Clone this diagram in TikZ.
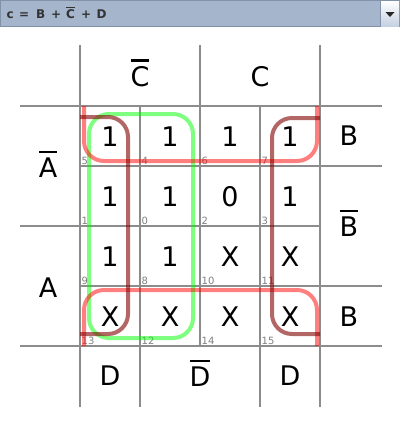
\documentclass[tikz,border=0pt]{standalone}
\usepackage{fontspec}
\setmainfont{DejaVu Sans}
\newcommand{\olbar}[1]{\vbox{\hrule height 2.4pt\kern 4.2pt\hbox{#1}}}
\newcommand{\olsmall}[1]{\vbox{\hrule height 1.2pt\kern 1.4pt\hbox{#1}}}
\definecolor{barfill}{RGB}{164,181,204}
\definecolor{barline}{RGB}{128,145,168}
\definecolor{btnbot}{RGB}{196,209,226}
\definecolor{gridc}{RGB}{140,140,140}
\definecolor{numc}{RGB}{128,128,128}
\definecolor{brownc}{RGB}{128,0,0}
\definecolor{formc}{RGB}{51,51,51}
\begin{document}
\begin{tikzpicture}[x=1pt,y=-1pt,
  gridline/.style={gridc,line width=1.8pt},
  big/.style={anchor=base,inner sep=0pt,font=\fontsize{27}{32}\selectfont},
  num/.style={anchor=base west,inner sep=0pt,text=numc,font=\fontsize{10}{11}\selectfont},
  form/.style={anchor=base west,inner sep=0pt,text=formc,font=\fontsize{12}{13}\selectfont\bfseries},
  redloop/.style={draw=red,draw opacity=0.5,line width=4pt,rounded corners=20pt},
  greenloop/.style={draw=green,draw opacity=0.5,line width=4pt,rounded corners=20pt},
  brownloop/.style={draw=brownc,draw opacity=0.6,line width=4pt,rounded corners=20pt}]
\useasboundingbox (0,0) rectangle (400,424);
% header bar
\fill[barfill] (0,0) rectangle (400,27);
\draw[barline,line width=1pt] (0.5,0.5) rectangle (399.5,26.5);
\shade[top color=white,bottom color=btnbot] (381,1) rectangle (399,26);
\draw[barline,line width=1pt] (380.5,0.5) -- (380.5,26.5);
\fill[black!85] (385.5,12) -- (394.5,12) -- (390,17) -- cycle;
\node[form] (f1) at (6.5,18.5) {c};
\node[form] (f2) at (19,18.5) {=};
\node[form] (f3) at (36,18.5) {B};
\node[form] (f4) at (51,18.5) {+};
\node[form] (f5) at (66,18.5) {\olsmall{C}};
\node[form] (f6) at (81,18.5) {+};
\node[form] (f7) at (96.5,18.5) {D};
% grid
\draw[gridline] (20,106) -- (382,106);
\draw[gridline] (80,166) -- (382,166);
\draw[gridline] (20,226) -- (320,226);
\draw[gridline] (80,286) -- (382,286);
\draw[gridline] (20,346) -- (382,346);
\draw[gridline] (80,45) -- (80,407);
\draw[gridline] (140,106) -- (140,407);
\draw[gridline] (200,45) -- (200,346);
\draw[gridline] (260,106) -- (260,407);
\draw[gridline] (320,45) -- (320,407);
% labels
\node[big] (cbar) at (140,86) {\olbar{C}};
\node[big] (c) at (260,86) {C};
\node[big] (abar) at (48,177) {\olbar{A}};
\node[big] (a) at (48,297) {A};
\node[big] (b1) at (349,145) {B};
\node[big] (bbar) at (349,236) {\olbar{B}};
\node[big] (b2) at (349,326) {B};
\node[big] (d1) at (110,385) {D};
\node[big] (dbar) at (200,386) {\olbar{D}};
\node[big] (d2) at (290,385) {D};
% values
\node[big] (v5) at (110,146) {1};
\node[big] (v4) at (170,146) {1};
\node[big] (v6) at (230,146) {1};
\node[big] (v7) at (290,146) {1};
\node[big] (v1) at (110,206) {1};
\node[big] (v0) at (170,206) {1};
\node[big] (v2) at (230,206) {0};
\node[big] (v3) at (290,206) {1};
\node[big] (v9) at (110,266) {1};
\node[big] (v8) at (170,266) {1};
\node[big] (v10) at (230,266) {X};
\node[big] (v11) at (290,266) {X};
\node[big] (v13) at (110,326) {X};
\node[big] (v12) at (170,326) {X};
\node[big] (v14) at (230,326) {X};
\node[big] (v15) at (290,326) {X};
% cell numbers
\node[num] (n5) at (81.5,164.5) {5};
\node[num] (n4) at (141.5,164.5) {4};
\node[num] (n6) at (201.5,164.5) {6};
\node[num] (n7) at (261.5,164.5) {7};
\node[num] (n1) at (81.5,224.5) {1};
\node[num] (n0) at (141.5,224.5) {0};
\node[num] (n2) at (201.5,224.5) {2};
\node[num] (n3) at (261.5,224.5) {3};
\node[num] (n9) at (81.5,284.5) {9};
\node[num] (n8) at (141.5,284.5) {8};
\node[num] (n10) at (201.5,284.5) {10};
\node[num] (n11) at (261.5,284.5) {11};
\node[num] (n13) at (81.5,344.5) {13};
\node[num] (n12) at (141.5,344.5) {12};
\node[num] (n14) at (201.5,344.5) {14};
\node[num] (n15) at (261.5,344.5) {15};
% loops
\draw[greenloop] (89,114) rectangle (193,338);
\draw[redloop] (84,106) -- (84,161) -- (317,161) -- (317,106);
\draw[redloop] (84,346) -- (84,290) -- (317,290) -- (317,346);
\draw[brownloop] (80,117) -- (128,117) -- (128,334) -- (80,334);
\draw[brownloop] (320,118) -- (272,118) -- (272,334) -- (320,334);
\end{tikzpicture}
\end{document}
